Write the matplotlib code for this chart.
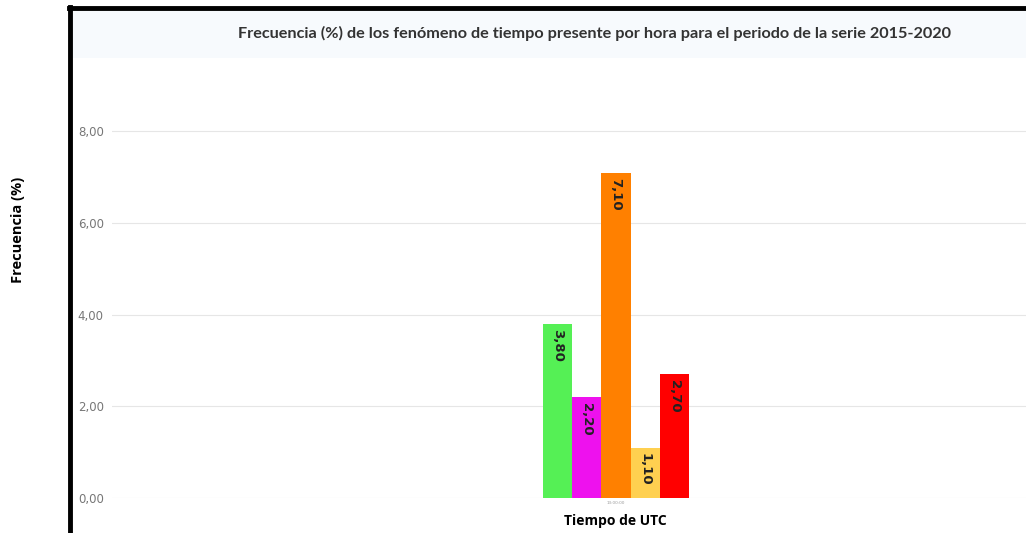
import matplotlib.pyplot as plt
from matplotlib.patches import Rectangle
from matplotlib.lines import Line2D
import numpy as np

# data
categoria = '13:00:00'
valores = [3.80, 2.20, 7.10, 1.10, 2.70]
colores = ['#55f055', '#ee11ee', '#ff8000', '#ffd050', '#ff0000']
etiquetas = ['3,80', '2,20', '7,10', '1,10', '2,70']
yticks = [0, 2, 4, 6, 8]
ytick_labels = ['0,00', '2,00', '4,00', '6,00', '8,00']

W, H = 1026, 533
fig = plt.figure(figsize=(W / 100, H / 100), dpi=100)

# light title band
fig.patches.append(Rectangle((70 / W, 1 - 58 / H), 1, 48 / H, transform=fig.transFigure,
                             facecolor='#f7fafd', edgecolor='none', zorder=0))
# black frame (left and top)
fig.add_artist(Line2D([70 / W, 70 / W], [0, 1 - 7 / H], transform=fig.transFigure, color='black', lw=3.5))
fig.add_artist(Line2D([69 / W, 1], [1 - 8 / H, 1 - 8 / H], transform=fig.transFigure, color='black', lw=3.5))

ax_l, ax_r, ax_b, ax_t = 112, 1026, 498, 58
ax = fig.add_axes([ax_l / W, 1 - ax_b / H, (ax_r - ax_l) / W, (ax_b - ax_t) / H])
ax.patch.set_alpha(0)

bar_px = 29.3
span = (ax_r - ax_l) / bar_px
centro = (616 - ax_l) / bar_px
x = np.arange(len(valores)) - (len(valores) - 1) / 2
ax.bar(x, valores, width=1.0, color=colores, zorder=2)
ax.set_xlim(-centro, span - centro)
ax.set_ylim(0, 9.6)

for xi, v, lab in zip(x, valores, etiquetas):
    ax.text(xi, v - 0.12, lab, rotation=270, ha='center', va='top', fontsize=9.5,
            fontweight='bold', color='#222222', family='DejaVu Sans', zorder=3)

ax.set_yticks(yticks)
ax.set_yticklabels(ytick_labels, fontsize=8.5, color='#777777', family='DejaVu Sans')
ax.tick_params(axis='y', length=0, pad=6)
ax.set_xticks([0])
ax.set_xticklabels([categoria], fontsize=3, color='#999999')
ax.tick_params(axis='x', length=0, pad=2)
ax.grid(axis='y', color='#e6e6e6', lw=0.8, zorder=0)
for s in ax.spines.values():
    s.set_visible(False)

fig.text(615 / W, 1 - 521 / H, 'Tiempo de UTC', ha='center', va='center',
         fontsize=10, fontweight='bold', family='Open Sans')

fig.text(594 / W, 1 - 33 / H, 'Frecuencia (%) de los fenómeno de tiempo presente por hora para el periodo de la serie 2015-2020',
         ha='center', va='center', fontsize=11.7, fontweight='bold', color='#333333', family='Lato')
fig.text(18 / W, 1 - 230 / H, 'Frecuencia (%)', rotation=90, ha='center', va='center',
         fontsize=10.5, fontweight='bold', color='black', family='Open Sans')

fig.savefig('out.png', dpi=100)
